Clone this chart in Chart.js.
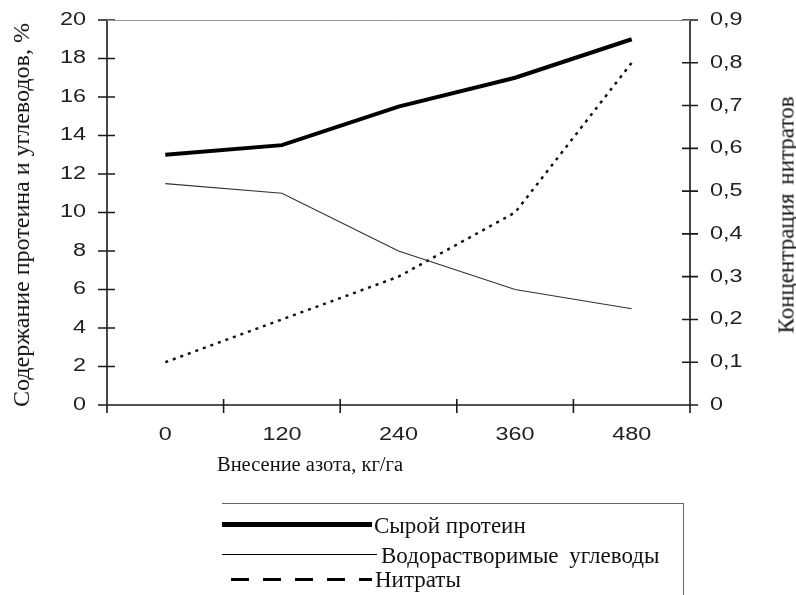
<!DOCTYPE html>
<html>
<head>
<meta charset="utf-8">
<script src="https://cdn.jsdelivr.net/npm/chart.js@4.4.1/dist/chart.umd.min.js"></script>
<style>
  body { margin: 0; background: #fff; }
  #wrap { position: relative; width: 796px; height: 595px; overflow: hidden; }
  #wrap canvas { position: absolute; left: 0; top: 0; }
  .serif { font-family: "Liberation Serif", "Times New Roman", serif; color: #111; position: absolute; white-space: nowrap; line-height: 1; }
  .vert { transform: translate(-50%, -50%) rotate(-90deg); }
  #legend { position: absolute; left: 222px; top: 503px; width: 462px; height: 120px; border: 1.5px solid #666; border-left: none; box-sizing: border-box; }
  .sample { position: absolute; left: 0; }
  .lg { transform: translateY(-50%); font-size: 23px; }
</style>
</head>
<body>
<div id="wrap">
  <canvas id="chart" width="796" height="595"></canvas>
  <div class="serif vert" style="left:21px; top:215px; font-size:24px;">Содержание протеина и углеводов, %</div>
  <div class="serif vert" style="left:786px; top:215px; font-size:23px; word-spacing:3px;">Концентрация нитратов</div>
  <div class="serif" style="left:310px; top:464px; font-size:20.5px; transform: translate(-50%, -50%);">Внесение азота, кг/га</div>
  <div id="legend">
    <div class="sample" style="top:18px; width:150px; height:5px; background:#000;"></div>
    <div class="serif lg" style="left:152px; top:21px;">Сырой протеин</div>
    <div class="sample" style="top:50px; width:155px; height:1px; background:#000;"></div>
    <div class="serif lg" style="left:159px; top:51px; word-spacing:5px;">Водорастворимые углеводы</div>
    <div class="sample" style="top:74px; width:150px; height:2.5px; background:repeating-linear-gradient(to right, transparent 0 9px, #000 9px 27px, transparent 27px 32px);"></div>
    <div class="serif lg" style="left:153px; top:75px;">Нитраты</div>
  </div>
</div>
<script>
// Данные
const nitrogen = ["0", "120", "240", "360", "480"];
const protein = [13, 13.5, 15.5, 17, 19];
const carbs = [11.5, 11, 8, 6, 5];
const nitrates = [0.1, 0.2, 0.3, 0.45, 0.8];

// подписи делений (растянутые по ширине, как на оригинале)
function stretchedText(c, txt, x, y, align) {
  const sx = 1.3;
  c.save();
  c.translate(x, y);
  c.scale(sx, 1);
  c.textAlign = align;
  c.textBaseline = "middle";
  c.fillText(txt, 0, 0);
  c.restore();
}

// оси с тиками "крестиком"
const axesPlugin = {
  id: "axesPlugin",
  afterDraw(chart) {
    const c = chart.ctx;
    const a = chart.chartArea;
    const x = chart.scales.x, y = chart.scales.y, y2 = chart.scales.y2;
    c.save();
    c.strokeStyle = "#1a1a1a";
    c.lineWidth = 1.6;
    c.beginPath();
    c.moveTo(a.left, a.top); c.lineTo(a.left, a.bottom);
    c.moveTo(a.right, a.top); c.lineTo(a.right, a.bottom);
    c.moveTo(a.left, a.bottom); c.lineTo(a.right, a.bottom);
    y.ticks.forEach((t, i) => {
      const p = y.getPixelForTick(i);
      c.moveTo(a.left - 9, p); c.lineTo(a.left + 8, p);
    });
    y2.ticks.forEach((t, i) => {
      const p = y2.getPixelForTick(i);
      c.moveTo(a.right - 8, p); c.lineTo(a.right + 8, p);
    });
    for (let i = 0; i < x.ticks.length - 1; i++) {
      const p = (x.getPixelForTick(i) + x.getPixelForTick(i + 1)) / 2;
      c.moveTo(p, a.bottom - 6); c.lineTo(p, a.bottom + 8);
    }
    c.moveTo(a.left, a.bottom - 6); c.lineTo(a.left, a.bottom + 8);
    c.moveTo(a.right, a.bottom - 6); c.lineTo(a.right, a.bottom + 8);
    c.stroke();
    c.strokeStyle = "#999";
    c.lineWidth = 1;
    c.beginPath();
    c.moveTo(a.left, a.top + 0.5); c.lineTo(a.right, a.top + 0.5);
    c.stroke();

    c.fillStyle = "#222";
    c.font = "18px 'Liberation Sans', Arial, sans-serif";
    y.ticks.forEach((t, i) => stretchedText(c, String(t.value), a.left - 21, y.getPixelForTick(i), "right"));
    y2.ticks.forEach((t, i) => {
      const v = t.value;
      const s = v === 0 ? "0" : v.toFixed(1).replace(".", ",");
      stretchedText(c, s, a.right + 20, y2.getPixelForTick(i), "left");
    });
    x.ticks.forEach((t, i) => stretchedText(c, nitrogen[i], x.getPixelForTick(i), a.bottom + 30, "center"));
    c.restore();
  }
};

new Chart(document.getElementById("chart"), {
  type: "line",
  data: {
    labels: nitrogen,
    datasets: [
      { label: "Сырой протеин", data: protein, yAxisID: "y", borderColor: "#000", borderWidth: 4, pointRadius: 0, tension: 0 },
      { label: "Водорастворимые углеводы", data: carbs, yAxisID: "y", borderColor: "#333", borderWidth: 1.2, pointRadius: 0, tension: 0 },
      { label: "Нитраты", data: nitrates, yAxisID: "y2", borderColor: "#111", borderWidth: 2.5, borderDash: [3, 5], pointRadius: 0, tension: 0 }
    ]
  },
  options: {
    responsive: false,
    animation: false,
    layout: { padding: { top: 20, left: 0, right: 0, bottom: 0 } },
    plugins: { legend: { display: false }, tooltip: { enabled: false } },
    scales: {
      x: {
        offset: true,
        grid: { display: false },
        border: { display: false },
        ticks: { display: false },
        afterFit(s) { s.height = 190; }
      },
      y: {
        position: "left",
        min: 0, max: 20,
        grid: { display: false },
        border: { display: false },
        ticks: { stepSize: 2, display: false },
        afterFit(s) { s.width = 107; }
      },
      y2: {
        position: "right",
        min: 0, max: 0.9,
        grid: { display: false },
        border: { display: false },
        ticks: { stepSize: 0.1, display: false },
        afterFit(s) { s.width = 106; }
      }
    }
  },
  plugins: [axesPlugin]
});
</script>
</body>
</html>
